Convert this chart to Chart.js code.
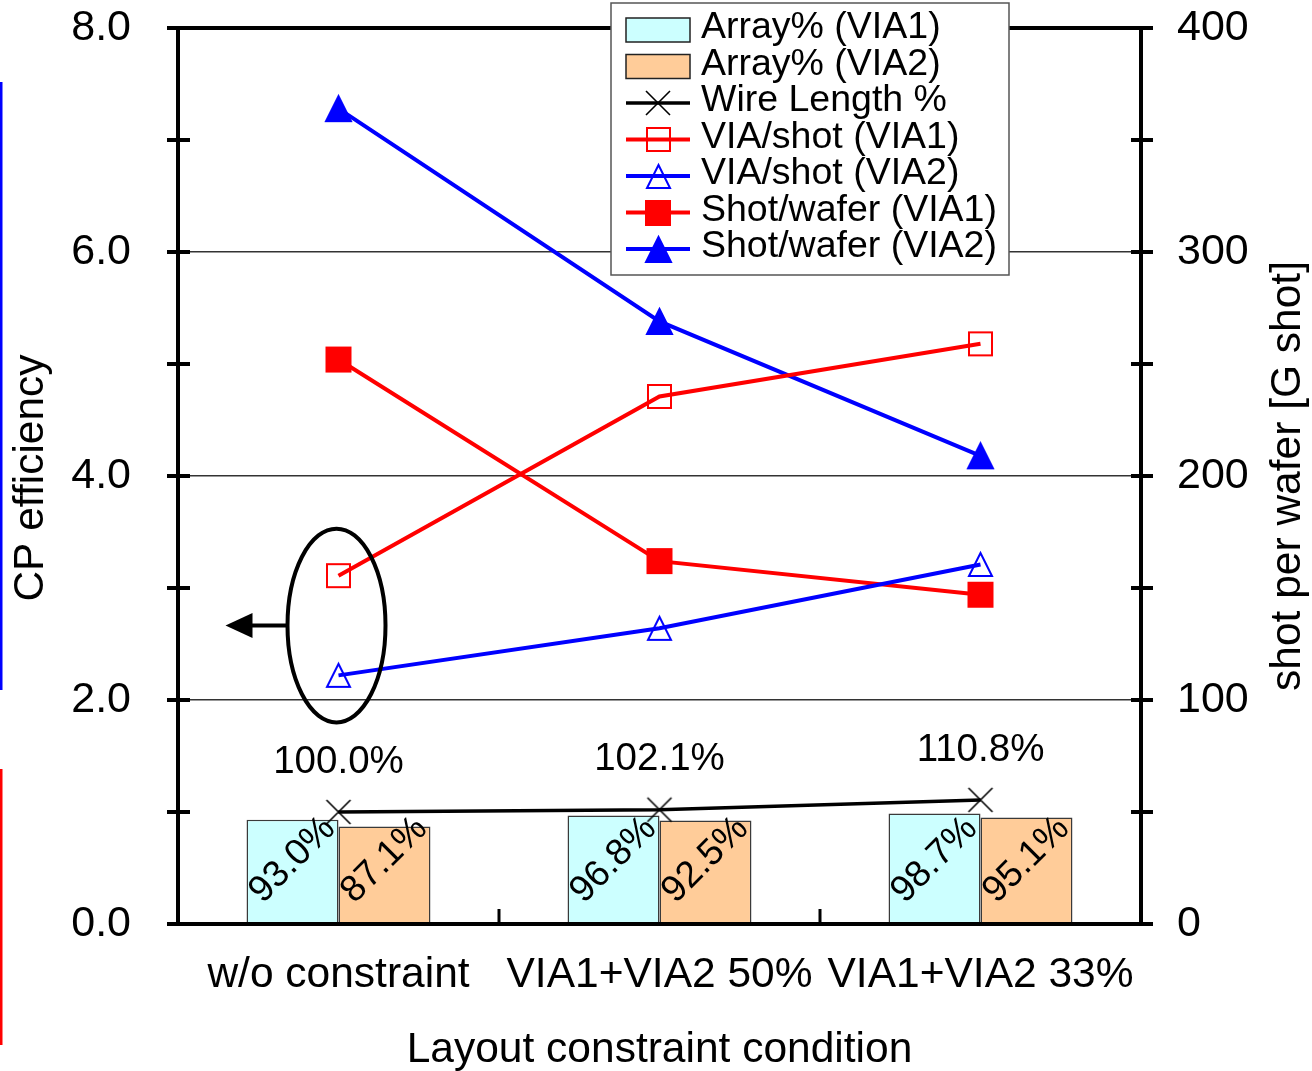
<!DOCTYPE html>
<html>
<head>
<meta charset="utf-8">
<script src="https://cdn.jsdelivr.net/npm/chart.js@4.4.1/dist/chart.umd.min.js"></script>
<style>
  html, body { margin: 0; padding: 0; background: #fff; }
  #wrap { width: 1312px; height: 1071px; }
</style>
</head>
<body>
<div id="wrap"><canvas id="cpChart" width="1312" height="1071"></canvas></div>
<script>
// values
const categories = ['w/o constraint', 'VIA1+VIA2 50%', 'VIA1+VIA2 33%'];
const arrayVia1 = [93.0, 96.8, 98.7];      // %
const arrayVia2 = [87.1, 92.5, 95.1];      // %
const wireLength = [100.0, 102.1, 110.8];  // %
const viaShotVia1 = [3.11, 4.71, 5.18];    // CP efficiency (left)
const viaShotVia2 = [2.22, 2.64, 3.21];
const shotWaferVia1 = [252, 162, 147];     // G shot (right)
const shotWaferVia2 = [364, 269, 209];

const FONT = "'Liberation Sans', Arial, Helvetica, sans-serif";
Chart.defaults.font.family = FONT;
Chart.defaults.color = '#000';

// marker images so the shapes are centred like the original
function makeMarker(shape, color, filled, size) {
  const pad = 3;
  const c = document.createElement('canvas');
  c.width = c.height = size + pad * 2;
  const g = c.getContext('2d');
  const o = pad, s = size;
  g.strokeStyle = color;
  g.fillStyle = color;
  g.lineWidth = shape === 'cross' ? 1.6 : 2;
  g.beginPath();
  if (shape === 'square') {
    g.rect(o + 1, o + 1, s - 2, s - 2);
  } else if (shape === 'triangle') {
    g.moveTo(o + s / 2, o + 1);
    g.lineTo(o + s - 1, o + s - 1);
    g.lineTo(o + 1, o + s - 1);
    g.closePath();
  } else {
    g.moveTo(o, o); g.lineTo(o + s, o + s);
    g.moveTo(o + s, o); g.lineTo(o, o + s);
  }
  if (filled) g.fill();
  g.stroke();
  return c;
}

const mk = {
  wire: makeMarker('cross', '#000', false, 24),
  sqOpen: makeMarker('square', '#ff0000', false, 25),
  triOpen: makeMarker('triangle', '#0000ff', false, 25),
  sqFill: makeMarker('square', '#ff0000', true, 26),
  triFill: makeMarker('triangle', '#0000ff', true, 27)
};

const datasets = [
  { type: 'bar', label: 'Array% (VIA1)', data: arrayVia1.map(v => v / 100), backgroundColor: '#CCFFFF',
    borderColor: '#3a3a3a', borderWidth: 1.5, yAxisID: 'y', order: 2 },
  { type: 'bar', label: 'Array% (VIA2)', data: arrayVia2.map(v => v / 100), backgroundColor: '#FFCC99',
    borderColor: '#3a3a3a', borderWidth: 1.5, yAxisID: 'y', order: 2 },
  { type: 'line', label: 'Wire Length %', data: wireLength.map(v => v / 100), borderColor: '#000', borderWidth: 3.5,
    pointStyle: mk.wire, pointRadius: 10, yAxisID: 'y', order: 1 },
  { type: 'line', label: 'VIA/shot (VIA1)', data: viaShotVia1, borderColor: '#ff0000', borderWidth: 4,
    pointStyle: mk.sqOpen, pointRadius: 10, yAxisID: 'y', order: 1 },
  { type: 'line', label: 'VIA/shot (VIA2)', data: viaShotVia2, borderColor: '#0000ff', borderWidth: 4,
    pointStyle: mk.triOpen, pointRadius: 10, yAxisID: 'y', order: 1 },
  { type: 'line', label: 'Shot/wafer (VIA1)', data: shotWaferVia1, borderColor: '#ff0000', borderWidth: 4,
    pointStyle: mk.sqFill, pointRadius: 10, yAxisID: 'y2', order: 1 },
  { type: 'line', label: 'Shot/wafer (VIA2)', data: shotWaferVia2, borderColor: '#0000ff', borderWidth: 4,
    pointStyle: mk.triFill, pointRadius: 10, yAxisID: 'y2', order: 1 }
];
const legendMarkers = [null, null, mk.wire, mk.sqOpen, mk.triOpen, mk.sqFill, mk.triFill];

function line(ctx, x1, y1, x2, y2) {
  ctx.beginPath(); ctx.moveTo(x1, y1); ctx.lineTo(x2, y2); ctx.stroke();
}

// keep the plot box where the original has it
function noPad(s) {
  s.paddingTop = 0; s.paddingBottom = 0; s.paddingLeft = 0; s.paddingRight = 0;
}

const decor = {
  id: 'decor',
  beforeDraw(chart) {
    const ctx = chart.ctx;
    ctx.save();
    ctx.fillStyle = '#fff';
    ctx.fillRect(0, 0, chart.width, chart.height);
    // coloured strips at the left edge of the original image
    ctx.fillStyle = '#0000ff'; ctx.fillRect(0, 82, 2.5, 608);
    ctx.fillStyle = '#ff0000'; ctx.fillRect(0, 769, 2.5, 276);
    ctx.restore();
  },
  afterDatasetsDraw(chart) {
    const ctx = chart.ctx;
    const a = chart.chartArea;
    const x = chart.scales.x, y = chart.scales.y, y2 = chart.scales.y2;
    ctx.save();

    // frame and tick marks
    ctx.strokeStyle = '#000';
    ctx.lineWidth = 4;
    ctx.lineCap = 'butt';
    line(ctx, a.left - 2, a.top, a.right + 2, a.top);
    line(ctx, a.left - 2, a.bottom, a.right + 2, a.bottom);
    line(ctx, a.left, a.top, a.left, a.bottom);
    line(ctx, a.right, a.top, a.right, a.bottom);
    for (let v = 0; v <= 8; v++) {
      const py = y.getPixelForValue(v);
      line(ctx, a.left - 11, py, a.left + 12, py);
    }
    for (let v = 0; v <= 400; v += 50) {
      const py = y2.getPixelForValue(v);
      line(ctx, a.right - 10, py, a.right + 12, py);
    }
    ctx.lineWidth = 3;
    for (let i = 0; i < categories.length - 1; i++) {
      const px = (x.getPixelForTick(i) + x.getPixelForTick(i + 1)) / 2;
      line(ctx, px, a.bottom - 15, px, a.bottom);
    }

    // rotated percentage labels inside the bars
    ctx.fillStyle = '#000';
    ctx.textAlign = 'center';
    ctx.textBaseline = 'middle';
    ctx.font = '37px ' + FONT;
    [arrayVia1, arrayVia2].forEach((vals, di) => {
      chart.getDatasetMeta(di).data.forEach((bar, i) => {
        ctx.save();
        ctx.translate(bar.x, y.getPixelForValue(0) - 64);
        ctx.rotate(-Math.PI / 4);
        ctx.fillText(vals[i].toFixed(1) + '%', 0, 0);
        ctx.restore();
      });
    });

    // wire length labels
    ctx.font = '38.5px ' + FONT;
    chart.getDatasetMeta(2).data.forEach((pt, i) => {
      ctx.fillText(wireLength[i].toFixed(1) + '%', pt.x, pt.y - 50);
    });

    // ellipse around first category + arrow to the left axis
    const cx = x.getPixelForValue(0) - 2;
    const yTop = y.getPixelForValue(3.53), yBot = y.getPixelForValue(1.8);
    const cy = (yTop + yBot) / 2, rx = 49, ry = (yBot - yTop) / 2;
    ctx.lineWidth = 4;
    ctx.beginPath();
    ctx.ellipse(cx, cy, rx, ry, 0, 0, Math.PI * 2);
    ctx.stroke();
    const tip = cx - 111;
    line(ctx, cx - rx, cy, tip + 22, cy);
    ctx.beginPath();
    ctx.moveTo(tip, cy);
    ctx.lineTo(tip + 27, cy - 12.5);
    ctx.lineTo(tip + 27, cy + 12.5);
    ctx.closePath();
    ctx.fill();

    // axis titles
    ctx.font = '42.5px ' + FONT;
    ctx.fillText('Layout constraint condition', (a.left + a.right) / 2, 1050);
    const midY = (a.top + a.bottom) / 2;
    ctx.save();
    ctx.translate(31, midY + 2);
    ctx.rotate(-Math.PI / 2);
    ctx.fillText('CP efficiency', 0, 0);
    ctx.restore();
    ctx.save();
    ctx.translate(1288, midY);
    ctx.rotate(-Math.PI / 2);
    ctx.fillText('shot per wafer [G shot]', 0, 0);
    ctx.restore();

    // legend box
    const lx = 611, ly = 3, lw = 398, lh = 272;
    ctx.fillStyle = '#fff';
    ctx.fillRect(lx, ly, lw, lh);
    ctx.strokeStyle = '#555';
    ctx.lineWidth = 1.5;
    ctx.strokeRect(lx, ly, lw, lh);
    ctx.font = '37.5px ' + FONT;
    ctx.textAlign = 'left';
    chart.data.datasets.forEach((ds, i) => {
      const ry0 = 30 + i * 36.5;
      if (ds.type === 'bar') {
        ctx.fillStyle = ds.backgroundColor;
        ctx.fillRect(626, ry0 - 12, 64, 24);
        ctx.strokeStyle = '#222';
        ctx.lineWidth = 1.5;
        ctx.strokeRect(626, ry0 - 12, 64, 24);
      } else {
        ctx.strokeStyle = ds.borderColor;
        ctx.lineWidth = ds.borderWidth;
        line(ctx, 626, ry0, 690, ry0);
        const m = legendMarkers[i];
        ctx.drawImage(m, Math.round(658 - m.width / 2), Math.round(ry0 - m.height / 2));
      }
      ctx.fillStyle = '#000';
      ctx.fillText(ds.label, 701, ry0 - 2);
    });
    ctx.restore();
  }
};

new Chart(document.getElementById('cpChart'), {
  type: 'bar',
  data: { labels: categories, datasets: datasets },
  options: {
    responsive: false,
    animation: false,
    devicePixelRatio: 1,
    layout: { padding: { top: 28, left: 0, right: 0, bottom: 0 } },
    datasets: {
      bar: { categoryPercentage: 0.573, barPercentage: 1.0 },
      line: { tension: 0, fill: false }
    },
    plugins: { legend: { display: false }, tooltip: { enabled: false } },
    scales: {
      x: {
        grid: { display: false, drawTicks: false },
        border: { display: false },
        ticks: { font: { size: 42.5 }, color: '#000', padding: 26, maxRotation: 0, autoSkip: false },
        afterFit(s) { s.height = 147; noPad(s); }
      },
      y: {
        position: 'left', min: 0, max: 8,
        ticks: { stepSize: 2, font: { size: 43 }, color: '#000', padding: 47, callback: v => v.toFixed(1) },
        grid: {
          drawTicks: false, lineWidth: 1.5,
          color: c => (c.tick && [2, 4, 6].includes(c.tick.value)) ? '#333' : 'rgba(0,0,0,0)'
        },
        border: { display: false },
        afterFit(s) { s.width = 178; noPad(s); }
      },
      y2: {
        position: 'right', min: 0, max: 400,
        ticks: { stepSize: 100, font: { size: 43 }, color: '#000', padding: 36 },
        grid: { display: false, drawTicks: false },
        border: { display: false },
        afterFit(s) { s.width = 171; noPad(s); }
      }
    }
  },
  plugins: [decor]
});
</script>
</body>
</html>
